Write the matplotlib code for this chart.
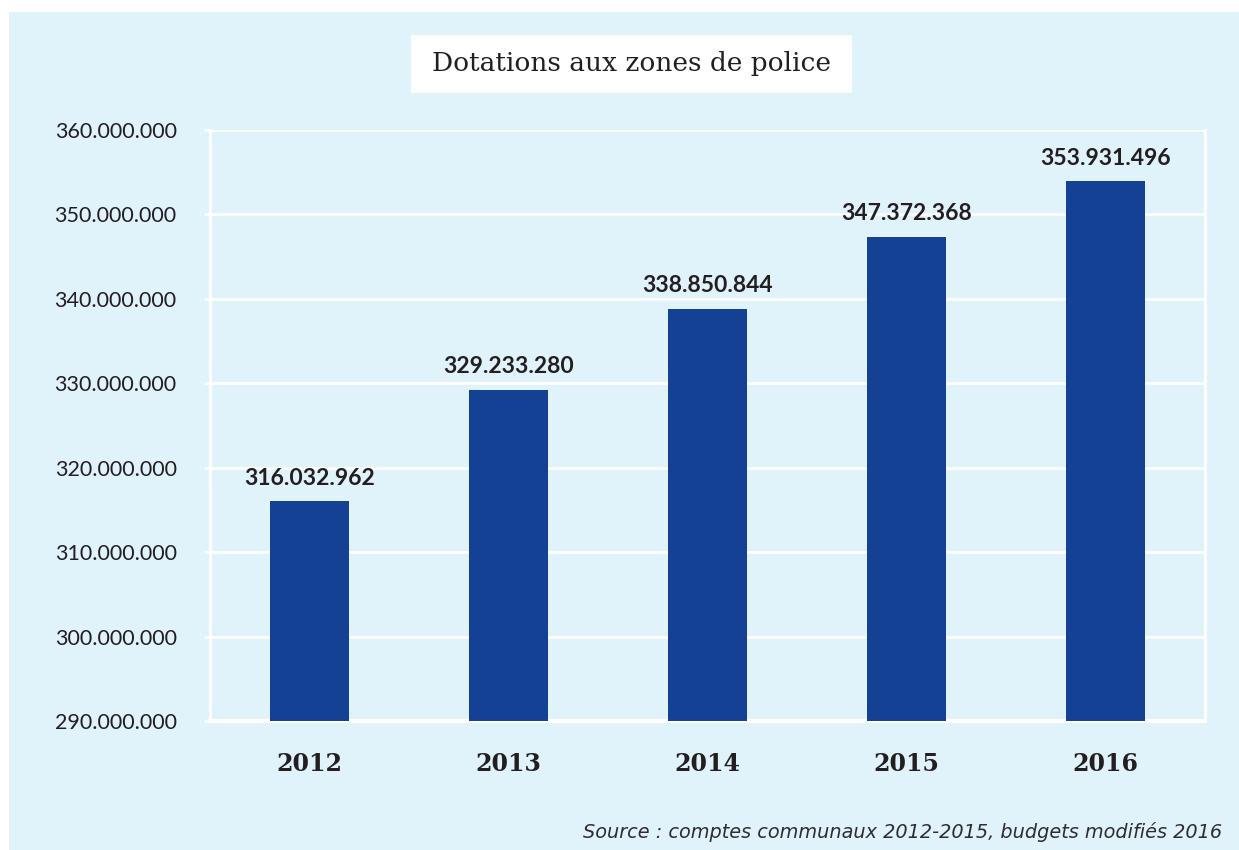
import matplotlib.pyplot as plt
from matplotlib.patches import Rectangle

years = ["2012", "2013", "2014", "2015", "2016"]
dotations = [316032962, 329233280, 338850844, 347372368, 353931496]
y_ticks = [290000000, 300000000, 310000000, 320000000, 330000000,
           340000000, 350000000, 360000000]

BG = "#e0f2fa"
BAR = "#154194"
INK = "#231f20"


def fmt_be(v):
    # Belgian style thousands separator
    return f"{v:,.0f}".replace(",", ".")


W, H = 1239, 850
fig = plt.figure(figsize=(W / 100, H / 100), dpi=100)
fig.patch.set_facecolor("white")

# light blue panel behind everything
fig.add_artist(Rectangle((9 / W, 0), 1 - 9 / W, 1 - 12 / H,
                         transform=fig.transFigure, facecolor=BG,
                         edgecolor="none", zorder=0))

ax = fig.add_axes([210 / W, 1 - 721 / H, (1205 - 210) / W, (721 - 130) / H])
ax.set_facecolor(BG)
ax.set_zorder(1)

x = range(len(years))
ax.bar(x, dotations, width=0.4, color=BAR, zorder=2)
ax.set_xlim(-0.5, len(years) - 0.5)
ax.set_ylim(y_ticks[0], y_ticks[-1])

ax.set_yticks(y_ticks)
ax.set_yticklabels([fmt_be(t) for t in y_ticks], family="Lato",
                   fontsize=15.5, color=INK)
ax.set_xticks(list(x))
ax.set_xticklabels(years, family="DejaVu Serif", fontweight="bold",
                   fontsize=17, color=INK)
ax.tick_params(axis="y", length=4, width=2, color="white", pad=20)
ax.tick_params(axis="x", length=0, pad=22)

ax.grid(axis="y", color="white", linewidth=2, zorder=1)
ax.axhline(y_ticks[0], color="white", linewidth=3, clip_on=False, zorder=1)
for side in ["top", "bottom"]:
    ax.spines[side].set_visible(False)
for side in ["left", "right"]:
    ax.spines[side].set_color("white")
    ax.spines[side].set_linewidth(2)

for xi, v in zip(x, dotations):
    ax.annotate(fmt_be(v), (xi, v), xytext=(0, 9), textcoords="offset points",
                ha="center", va="bottom", family="Lato", fontweight="bold",
                fontsize=16.5, color=INK)

# title in a white box
fig.add_artist(Rectangle((411 / W, 1 - 93 / H), (852 - 411) / W, (93 - 35) / H,
                         transform=fig.transFigure, facecolor="white",
                         edgecolor="none", zorder=2))
fig.text(631 / W, 1 - 63 / H, "Dotations aux zones de police",
         ha="center", va="center", family="DejaVu Serif", fontsize=19,
         color=INK, zorder=3)

fig.text(1222 / W, 1 - 832 / H,
         "Source : comptes communaux 2012-2015, budgets modifiés 2016",
         ha="right", va="center", family="DejaVu Sans", style="italic",
         fontsize=13.9, color="#2e2e2e", zorder=3)

fig.savefig("out.png", dpi=100)
